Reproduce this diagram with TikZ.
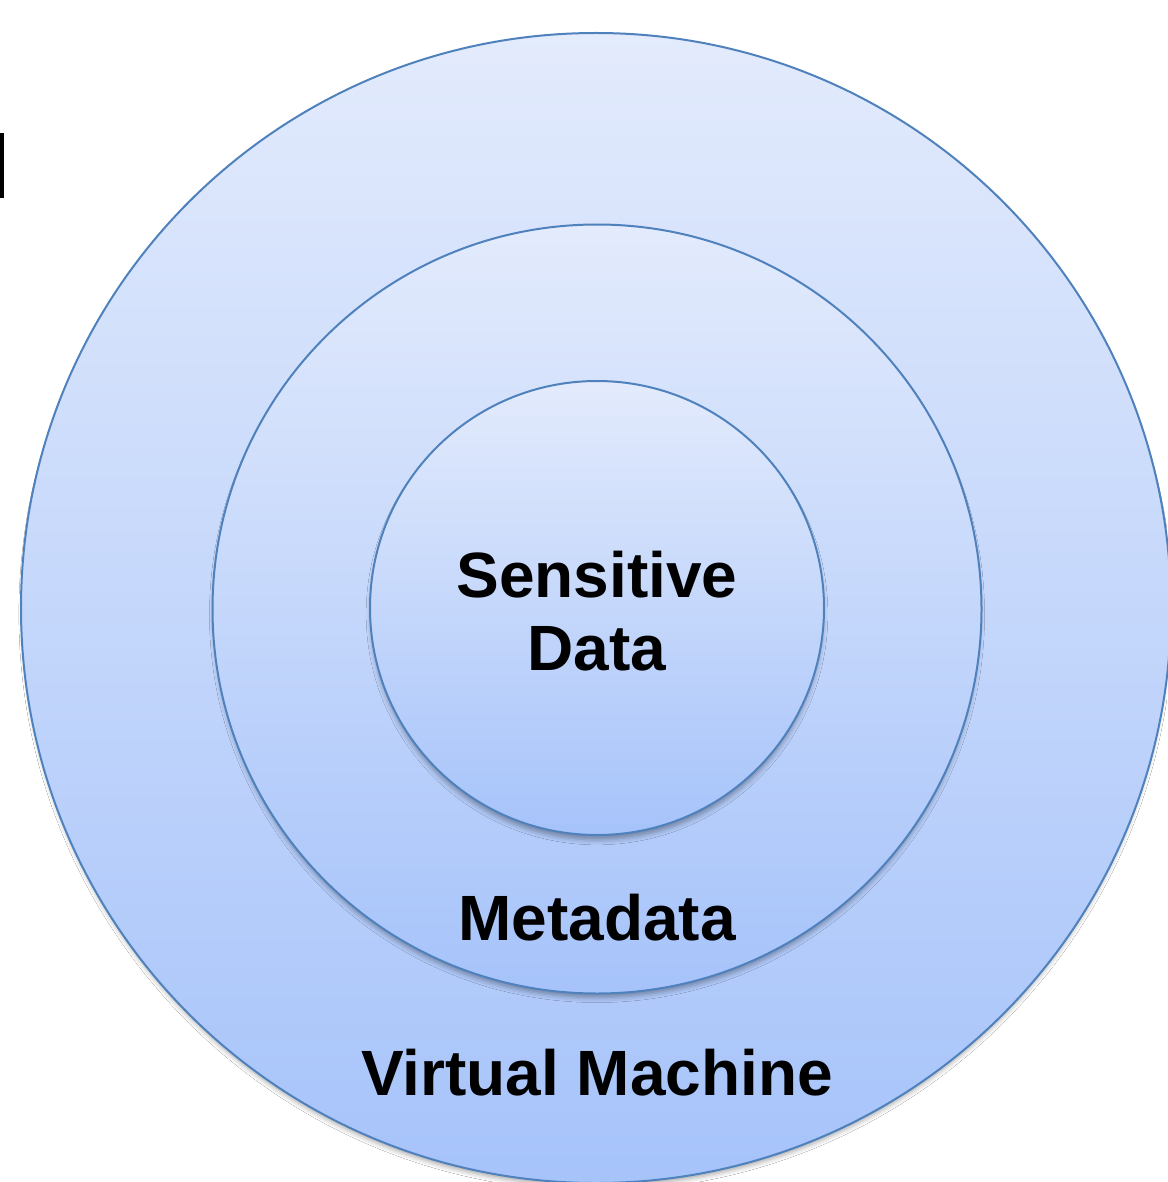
\documentclass[tikz,border=0pt]{standalone}
\usepackage{fontspec}
\setmainfont{Liberation Sans}
\usetikzlibrary{shadows.blur}
\definecolor{ringline}{HTML}{4F81BD}
\definecolor{ringtop}{HTML}{E3EBFC}
\definecolor{ringbottom}{HTML}{A6C3FA}
\tikzset{
  ring/.style={circle, draw=ringline, line width=1pt, inner sep=0pt,
    top color=ringtop, bottom color=ringbottom,
    blur shadow={shadow xshift=0pt, shadow yshift=-3pt, shadow scale=0.995, shadow blur radius=2.5pt, shadow opacity=35}},
  lbl/.style={font=\bfseries\fontsize{32}{36.5}\selectfont, align=center, text=black}
}
\begin{document}
\begin{tikzpicture}[x=0.5pt, y=-0.5pt]
  \useasboundingbox (0,0) rectangle (1167,1182);
  \fill[white] (0,0) rectangle (1167,1182);
  % side bar at the left edge
  \fill[black] (0,133) rectangle (4,198);
  % nested layers
  \node[ring, minimum size=575pt] (vm) at (596,608) {};
  \node[ring, minimum size=384.5pt] (meta) at (597,609) {};
  \node[ring, minimum size=227pt] (data) at (597,608) {};
  % labels
  \node[lbl, anchor=base] (tdata) at (597,670) {Sensitive\\Data};
  \node[lbl, anchor=base] (tmeta) at (597,940) {Metadata};
  \node[lbl, anchor=base] (tvm) at (597,1095) {Virtual Machine};
\end{tikzpicture}
\end{document}
